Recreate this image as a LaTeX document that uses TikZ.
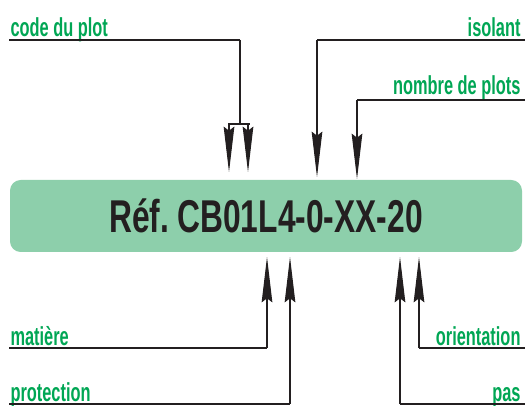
\documentclass[tikz,border=0pt]{standalone}
\usepackage{fontspec}
\usetikzlibrary{arrows.meta}
\newfontfamily\lblfont[FakeStretch=0.63]{Liberation Sans}
\newfontfamily\reffont[FakeStretch=0.69]{Liberation Sans}
\definecolor{plotgreen}{RGB}{0,166,84}
\definecolor{boxgreen}{RGB}{141,207,171}
\definecolor{inkdark}{RGB}{35,31,32}

\tikzset{every picture/.style={line width=0.75pt}}
\tikzset{
  hline/.style={draw=inkdark, line width=1.6pt},
  vline/.style={draw=inkdark, line width=0.8pt},
  tiparrow/.style={vline, -{Stealth[length=34pt,width=8pt,inset=3pt]}},
  lbl/.style={inner sep=0pt, text=plotgreen, font=\lblfont\bfseries\fontsize{19.5}{20}\selectfont},
  refbox/.style={fill=boxgreen, rounded corners=8pt, minimum width=384pt, minimum height=54pt, inner sep=0pt, text=inkdark, font=\reffont\bfseries\fontsize{34.5}{36}\selectfont}
}

\begin{document}
\begin{tikzpicture}[x=0.75pt,y=0.75pt,yscale=-1,xscale=1]
		\useasboundingbox (0,0) rectangle (525,406);
		
		%Rounded Rect
		\node [refbox] (ref) at (266,216) {Réf.\hspace{0.18em}CB01L4-0-XX-20};
		
		% Text Node
		\node [lbl, anchor=base west] (codeplot) at (10,37) {code du plot};
		% Text Node
		\node [lbl, anchor=base east] (isolant) at (521,37) {isolant};
		% Text Node
		\node [lbl, anchor=base east] (nbplots) at (521,95) {nombre de plots};
		% Text Node
		\node [lbl, anchor=base west] (matiere) at (10,345) {matière};
		% Text Node
		\node [lbl, anchor=base west] (protection) at (10,401) {protection};
		% Text Node
		\node [lbl, anchor=base east] (orientation) at (521,345) {orientation};
		% Text Node
		\node [lbl, anchor=base east] (pas) at (521,401) {pas};
		
		%Corners
		\coordinate (cpA) at (9,40);    \coordinate (cpB) at (240,40);   \coordinate (cpC) at (240,124);
		\coordinate (cpL) at (228,124); \coordinate (cpR) at (250,124);
		\coordinate (isA) at (525,40);  \coordinate (isB) at (317,40);
		\coordinate (nbA) at (525,100); \coordinate (nbB) at (357,100);
		\coordinate (maA) at (9,348);   \coordinate (maB) at (267,348);
		\coordinate (prA) at (9,404);   \coordinate (prB) at (290,404);
		\coordinate (orA) at (525,348); \coordinate (orB) at (419,348);
		\coordinate (paA) at (525,404); \coordinate (paB) at (400,404);
		
		%Straight Lines
		\draw [hline] (cpA) -- (cpB) ;
		\draw [vline] (cpB) -- (cpC) ;
		\draw [hline] (cpL) -- (cpR) ;
		\draw [tiparrow] (229,124) -- (229,172) ;
		\draw [tiparrow] (248,124) -- (248,172) ;
		%Straight Lines
		\draw [hline] (isA) -- (isB) ;
		\draw [tiparrow] (isB) -- (317,177) ;
		\draw [hline] (nbA) -- (nbB) ;
		\draw [tiparrow] (nbB) -- (357,179) ;
		%Straight Lines
		\draw [hline] (maA) -- (maB) ;
		\draw [tiparrow] (maB) -- (267,257) ;
		\draw [hline] (prA) -- (prB) ;
		\draw [tiparrow] (prB) -- (290,257) ;
		%Straight Lines
		\draw [hline] (orA) -- (orB) ;
		\draw [tiparrow] (orB) -- (419,257) ;
		\draw [hline] (paA) -- (paB) ;
		\draw [tiparrow] (paB) -- (400,257) ;
	\end{tikzpicture}
\end{document}
